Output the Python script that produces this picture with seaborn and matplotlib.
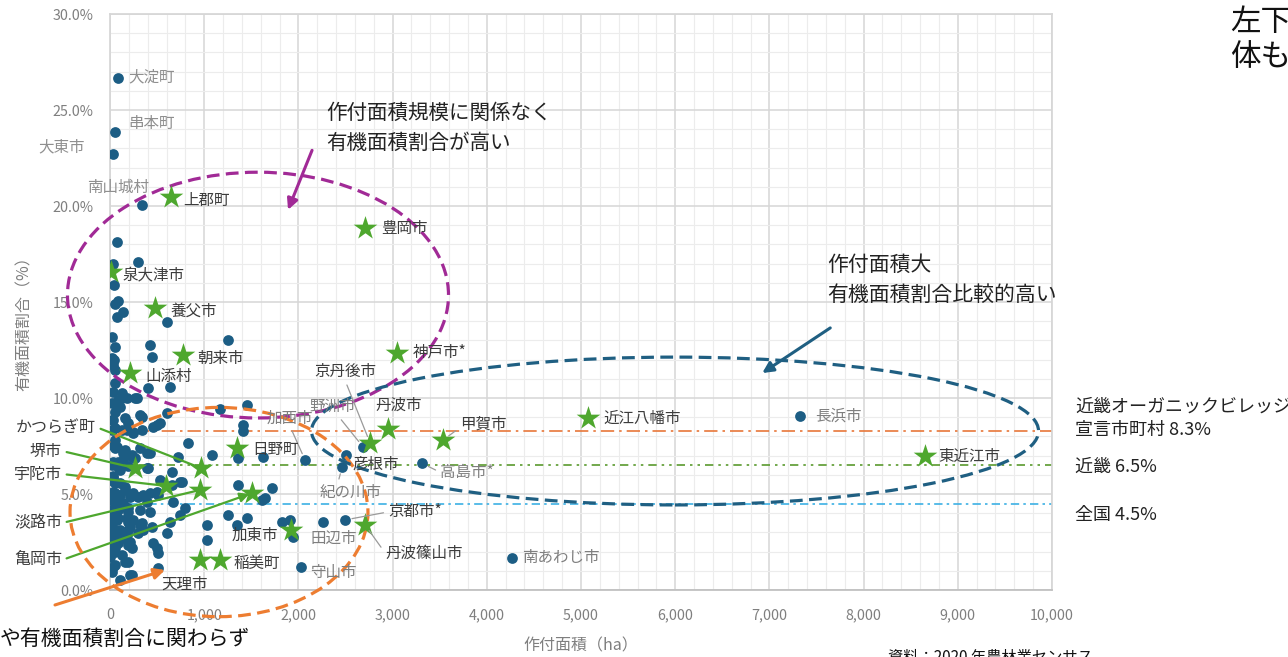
import matplotlib
matplotlib.use("Agg")
import matplotlib.pyplot as plt
import pandas as pd
import seaborn as sns
from matplotlib.patches import Ellipse
from matplotlib.ticker import MultipleLocator, FuncFormatter

# ---- data: 作付面積 (ha) / 有機面積割合 (%) ----
# 有機農業に取り組む市町村 (★)
star_names = ["上郡町", "豊岡市", "泉大津市", "養父市", "朝来市", "山添村", "神戸市*",
              "京丹後市", "丹波市", "甲賀市", "近江八幡市", "東近江市", "日野町",
              "堺市", "かつらぎ町", "宇陀市", "淡路市", "亀岡市", "加東市",
              "丹波篠山市", "稲美町", None]
star_ha = [648, 2708, 10, 478, 775, 212, 3048,
           2761, 2952, 3536, 5076, 8655, 1349,
           265, 966, 595, 956, 1508, 1922,
           2708, 1168, 956]
star_pct = [20.47, 18.85, 16.56, 14.69, 12.24, 11.3, 12.34,
            7.66, 8.39, 7.81, 8.96, 6.98, 7.4,
            6.35, 6.35, 5.42, 5.21, 5.05, 3.13,
            3.39, 1.56, 1.56]

# 名前を表示するその他の市町村 (●)
dot_names = ["大淀町", "串本町", "大東市", "南山城村", "長浜市", "南あわじ市", "守山市",
             "天理市", "田辺市", "京都市*", "紀の川市", "彦根市", "野洲市", "加西市", "高島市*"]
dot_ha = [85, 55, 30, 340, 7328, 4269, 2028, 510, 1943, 2496, 2464, 2506, 2687, 2071, 3313]
dot_pct = [26.67, 23.85, 22.7, 20.05, 9.06, 1.67, 1.2, 1.15, 2.76, 3.65, 6.4, 7.03, 7.45, 6.77, 6.6]

# その他の市町村
other_ha = [75, 30, 300, 40, 55, 85, 140, 75, 605, 1255, 55, 425, 445, 20, 30, 55, 55,
            405, 635, 125, 85, 20, 105, 180, 265, 55, 1455, 1170, 30, 160, 190, 340,
            500, 530, 605, 1410, 1410, 20, 125, 245, 340, 830, 55, 160, 235, 320, 425,
            1085, 1360, 1625, 140, 265, 395, 20, 105, 30, 530, 660, 745, 55, 30, 105,
            210, 300, 425, 500, 395, 55, 140, 795, 745, 635, 605, 1030, 1030, 1360,
            1255, 1455, 0, 75, 180, 245, 20, 105, 30, 140, 210, 20, 320, 350, 445,
            235, 55, 455, 500, 510, 190, 55, 235, 1645, 1720, 1615, 1350, 1825, 1910,
            2260, 85, 190, 20, 320, 425, 0, 105, 85, 190, 0, 160, 20, 190, 65, 190, 0,
            125, 20, 55, 20, 30, 20, 40,
            125, 285, 20, 55, 180, 245, 320, 455, 75, 140, 235, 395, 30, 85, 405, 720,
            660, 765, 30, 105, 160, 55, 245, 350, 510, 55, 160, 670, 20, 85, 190, 20,
            210, 340, 55, 180, 300, 85, 190, 55, 160, 30, 210]
other_pct = [18.1, 17.0, 17.1, 15.9, 14.9, 15.05, 14.5, 14.2, 13.95, 13.0, 12.65, 12.75,
             12.15, 12.1, 11.7, 11.45, 10.8, 10.5, 10.55, 10.25, 9.9, 9.75, 9.55, 10.0,
             10.0, 9.25, 9.65, 9.45, 8.85, 8.95, 8.7, 9.0, 8.6, 8.7, 9.2, 8.6, 8.3, 8.35,
             8.35, 8.25, 8.35, 7.65, 7.4, 7.3, 7.05, 7.4, 7.15, 7.05, 6.9, 6.95, 6.75,
             6.9, 6.35, 6.5, 6.25, 5.95, 5.75, 5.45, 5.6, 5.55, 5.1, 4.95, 4.85, 4.85,
             5.05, 5.1, 4.6, 4.6, 4.55, 4.25, 3.9, 3.55, 2.95, 3.4, 2.6, 5.45, 3.9, 3.75,
             3.75, 3.65, 3.75, 3.65, 3.3, 3.1, 2.85, 2.7, 2.5, 2.45, 3.4, 3.1, 3.3, 2.2,
             2.0, 2.45, 2.2, 1.95, 1.45, 1.3, 0.8, 4.8, 5.3, 4.7, 3.4, 3.55, 3.65, 3.55,
             4.15, 4.25, 4.15, 4.15, 4.05, 1.7, 0.5, 6.65, 6.45, 5.75, 5.35, 4.7, 4.05,
             2.75, 3.1, 2.2, 1.8, 0.95, 7.8, 7.55, 10.3, 13.2, 12.0,
             10.0, 10.0, 8.85, 8.45, 8.35, 8.2, 9.1, 8.5, 7.45, 7.15, 6.95, 7.15, 6.65,
             6.4, 6.35, 6.95, 6.15, 5.6, 5.85, 5.55, 5.2, 5.05, 5.05, 4.95, 4.95, 4.45,
             4.3, 4.6, 4.0, 3.75, 3.55, 3.3, 3.3, 3.5, 2.85, 2.85, 2.95, 2.45, 2.35,
             2.2, 1.45, 1.2, 0.8]

# 基準線
ref_values = [8.3, 6.5, 4.5]
ref_labels = ["近畿オーガニックビレッジ\n宣言市町村 8.3%", "近畿 6.5%", "全国 4.5%"]

# ---- style ----
W, H, DPI = 1288, 657, 100
DOT = "#1c5d84"
STAR = "#4ea72e"
DARK = "#3c3c3c"
LIGHT = "#8f8f8f"
GRAYTXT = "#7f7f7f"

sns.set_theme(style="white")
plt.rcParams["font.family"] = ["Noto Sans CJK JP", "DejaVu Sans"]

fig = plt.figure(figsize=(W / DPI, H / DPI), dpi=DPI)
ax = fig.add_axes([110 / W, 1 - 590 / H, 942 / W, 576 / H])


def fpx(x, y):
    """figure fraction from top-left pixel position"""
    return x / W, 1 - y / H


# axes, grid
ax.set_xlim(0, 10000)
ax.set_ylim(0, 30)
ax.xaxis.set_major_locator(MultipleLocator(1000))
ax.xaxis.set_minor_locator(MultipleLocator(200))
ax.yaxis.set_major_locator(MultipleLocator(5))
ax.yaxis.set_minor_locator(MultipleLocator(1))
ax.xaxis.set_major_formatter(FuncFormatter(lambda v, p: f"{v:,.0f}"))
ax.yaxis.set_major_formatter(FuncFormatter(lambda v, p: f"{v:.1f}%"))
ax.grid(which="major", color="#d6d6d6", lw=1.1, zorder=0)
ax.grid(which="minor", color="#ececec", lw=0.8, zorder=0)
ax.set_axisbelow(True)
for side in ["left", "right", "top"]:
    ax.spines[side].set_color("#d6d6d6")
ax.spines["bottom"].set_color("#bfbfbf")
ax.tick_params(which="both", length=0, colors=GRAYTXT, labelsize=10.3, pad=12)
ax.tick_params(axis="x", pad=13)

# reference lines
ref_styles = [("#e8773a", (0, (8, 3, 1.5, 3))),
              ("#5a9a2e", (0, (5, 3, 1.5, 3, 1.5, 3))),
              ("#3cb0e4", (0, (5, 2.5, 1.5, 2.5)))]
for v, (c, ls) in zip(ref_values, ref_styles):
    ax.axhline(v, color=c, lw=1.2, ls=ls, zorder=1)
for lab, y in zip(ref_labels, [418, 467, 515]):
    fig.text(*fpx(1075, y), lab, fontsize=13, color="#222222", va="center",
             ha="left", linespacing=1.4)

# points
others = pd.DataFrame({"ha": other_ha, "pct": other_pct})
dots = pd.DataFrame({"ha": dot_ha, "pct": dot_pct, "name": dot_names})
stars = pd.DataFrame({"ha": star_ha, "pct": star_pct, "name": star_names})
sns.scatterplot(data=others, x="ha", y="pct", ax=ax, color=DOT, s=60,
                linewidth=0, zorder=3, legend=False)
sns.scatterplot(data=dots, x="ha", y="pct", ax=ax, color=DOT, s=60,
                linewidth=0, zorder=3, legend=False)
sns.scatterplot(data=stars, x="ha", y="pct", ax=ax, color=STAR, marker="*",
                s=320, linewidth=0, zorder=5, legend=False)
ax.set_xlabel("作付面積（ha）", color=GRAYTXT, fontsize=11.5)
ax.xaxis.set_label_coords(0.5, -0.082)
ax.set_ylabel("有機面積割合（%）", color=GRAYTXT, fontsize=11.5)
ax.yaxis.set_label_coords(-0.082, 0.47)

# point labels: offset (pixels), alignment, colour, leader line relpos
label_spec = {
    "大淀町": (10, 1, "left", LIGHT, None),
    "串本町": (13, 9, "left", LIGHT, None),
    "大東市": (-28, 7, "right", LIGHT, None),
    "南山城村": (-24, 18, "center", LIGHT, None),
    "長浜市": (15, 0, "left", GRAYTXT, None),
    "南あわじ市": (10, 0, "left", GRAYTXT, None),
    "守山市": (9, -6, "left", GRAYTXT, None),
    "天理市": (27, -16, "center", DARK, None),
    "田辺市": (17, -1, "left", GRAYTXT, None),
    "京都市*": (43, 8, "left", DARK, (0, 0.5)),
    "紀の川市": (8, -25, "center", GRAYTXT, (0.3, 1)),
    "彦根市": (6, -9, "left", DARK, None),
    "野洲市": (-30, 40, "center", GRAYTXT, (0.6, 0)),
    "加西市": (-15, 42, "center", GRAYTXT, (0.5, 0)),
    "高島市*": (18, -9, "left", GRAYTXT, (0, 0.5)),
    "上郡町": (12, -3, "left", DARK, None),
    "豊岡市": (16, 0, "left", DARK, None),
    "泉大津市": (12, -3, "left", DARK, None),
    "養父市": (15, -3, "left", DARK, None),
    "朝来市": (14, -3, "left", DARK, None),
    "山添村": (15, -3, "left", DARK, None),
    "神戸市*": (16, 1, "left", DARK, None),
    "京丹後市": (-25, 71, "center", DARK, (0.5, 0)),
    "丹波市": (11, 24, "center", DARK, None),
    "甲賀市": (17, 16, "left", DARK, (0, 0.3)),
    "近江八幡市": (15, 0, "left", DARK, None),
    "東近江市": (13, 0, "left", DARK, None),
    "日野町": (15, -2, "left", DARK, None),
    "加東市": (-13, -5, "right", DARK, None),
    "丹波篠山市": (20, -28, "left", DARK, (0, 0.5)),
    "稲美町": (13, -3, "left", DARK, None),
}
for df in (dots, stars):
    for _, r in df.iterrows():
        if r["name"] not in label_spec:
            continue
        dx, dy, ha, col, rel = label_spec[r["name"]]
        kw = {}
        if rel is not None:
            kw["arrowprops"] = dict(arrowstyle="-", color="#9a9a9a", lw=0.9,
                                    relpos=rel, shrinkA=1, shrinkB=5)
        ax.annotate(r["name"], (r["ha"], r["pct"]), xytext=(dx, dy),
                    textcoords="offset pixels", ha=ha, va="center",
                    fontsize=11.2, color=col, zorder=6, **kw)

# labels on the left joined to their stars
left_labels = {"かつらぎ町": 427, "堺市": 451, "宇陀市": 474, "淡路市": 523, "亀岡市": 560}
left_right = {"かつらぎ町": 96, "堺市": 62, "宇陀市": 62, "淡路市": 62, "亀岡市": 62}
for _, r in stars.iterrows():
    if r["name"] in left_labels:
        x0, y0 = left_right[r["name"]], left_labels[r["name"]]
        style = "-|>" if r["name"] == "亀岡市" else "-"
        ax.annotate(r["name"], (r["ha"], r["pct"]), xytext=(x0, H - y0),
                    textcoords="figure pixels", ha="right", va="center",
                    fontsize=11.5, color=DARK, annotation_clip=False, zorder=4,
                    arrowprops=dict(arrowstyle=style, color=STAR, lw=1.6,
                                    mutation_scale=14, relpos=(1, 0.5),
                                    shrinkA=1, shrinkB=2))

# grouping ellipses
ellipses = [((1571, 15.36), 4045, 12.8, "#a12a96"),
            ((1157, 4.06), 3163, 10.9, "#ed7d31"),
            ((5998, 8.28), 7718, 7.7, "#1f5f82")]
for (cx, cy), w, h, c in ellipses:
    ax.add_patch(Ellipse((cx, cy), w, h, fill=False, edgecolor=c, lw=2.3,
                         ls=(0, (4, 2)), clip_on=False, zorder=4))

# pointer arrows
arrows = [((2145, 22.9), (1890, 19.8), "#a12a96"),
          ((7646, 13.65), (6924, 11.3), "#1f5f82"),
          ((-584, -0.78), (584, 1.04), "#ed7d31")]
for start, end, c in arrows:
    ax.annotate("", end, xytext=start, annotation_clip=False, zorder=6,
                arrowprops=dict(arrowstyle="-|>", color=c, lw=2.2,
                                mutation_scale=16, shrinkA=0, shrinkB=0))

# commentary
fig.text(*fpx(326, 128), "作付面積規模に関係なく\n有機面積割合が高い", fontsize=14.8,
         color="#222222", va="center", linespacing=1.45)
fig.text(*fpx(827, 280), "作付面積大\n有機面積割合比較的高い", fontsize=15,
         color="#222222", va="center", linespacing=1.45)
fig.text(*fpx(1230, 40), "左下の\n体も", fontsize=22, color="#111111",
         va="center", linespacing=1.2)
fig.text(*fpx(0, 639), "や有機面積割合に関わらず", fontsize=15, color="#111111",
         va="center", ha="left")
fig.text(*fpx(888, 648), "資料：2020 年農林業センサス", fontsize=11,
         color="#111111", va="top", ha="left")

fig.savefig("out.png", dpi=DPI)
